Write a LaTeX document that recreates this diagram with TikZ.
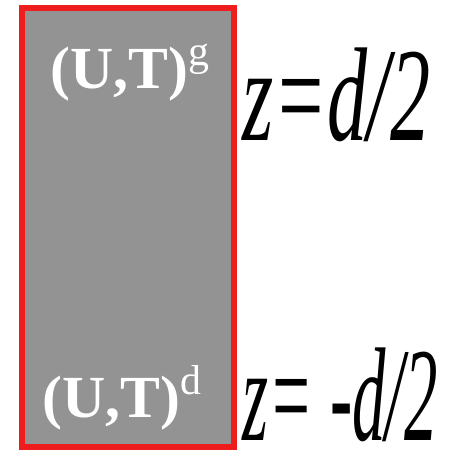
\documentclass[tikz,border=0pt]{standalone}
\usepackage{fontspec}
\setmainfont{Liberation Serif}
\usepackage{tikz}
\usetikzlibrary{positioning,calc}
\definecolor{slabgray}{HTML}{939393}
\definecolor{edgered}{HTML}{EE1C1C}
\tikzset{
  slab/.style={rectangle, draw=edgered, line width=1.6pt, fill=slabgray,
               inner sep=0pt, minimum width=2.12cm, minimum height=4.39cm},
  facelbl/.style={anchor=base west, inner sep=0pt, text=white,
                  font=\fontsize{17}{18}\selectfont},
  zlbl/.style={anchor=base west, inner sep=0pt, xscale=#1,
               font=\fontsize{38}{40}\selectfont\itshape},
}
\begin{document}
\begin{tikzpicture}
  \useasboundingbox (0,0) rectangle (4.56,4.64);
  \node[slab] (slab) at (1.28,2.365) {};
  % upper and lower faces
  \node[facelbl] (topface) at (0.50,3.76) {\textbf{(U,T)}\textsuperscript{g}};
  \node[facelbl] (botface) at (0.42,0.47) {\textbf{(U,T)}\textsuperscript{d}};
  \node[zlbl=0.6] (ztop) at (2.42,3.24) {z=d/2};
  \node[zlbl=0.5] (zbot) at (2.42,0.24) {z= -d/2};
\end{tikzpicture}
\end{document}
